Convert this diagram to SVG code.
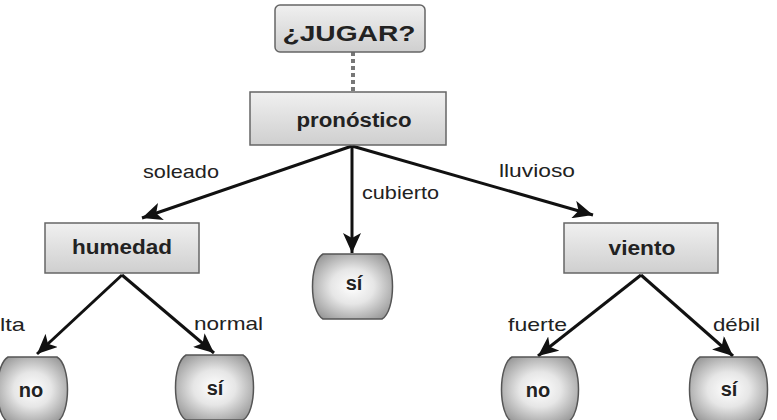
<svg xmlns="http://www.w3.org/2000/svg" width="777" height="420" viewBox="0 0 777 420">
<defs>
<linearGradient id="boxg" x1="0" y1="0" x2="0" y2="1">
<stop offset="0" stop-color="#f0f0f0"/>
<stop offset="1" stop-color="#cfcfcf"/>
</linearGradient>
<radialGradient id="leafg" cx="0.5" cy="0.5" r="0.6">
<stop offset="0" stop-color="#ffffff"/>
<stop offset="0.45" stop-color="#e6e6e6"/>
<stop offset="1" stop-color="#9a9a9a"/>
</radialGradient>
<marker id="ah" markerUnits="userSpaceOnUse" markerWidth="22" markerHeight="18" refX="20" refY="9" orient="auto">
<path d="M0,0 L20,9 L0,18 L5,9 Z" fill="#111"/>
</marker>
</defs>
<style>
.box{fill:url(#boxg);stroke:#666;stroke-width:1.5}
.leaf{fill:url(#leafg);stroke:#555;stroke-width:1.5}
.nt{font-family:"Liberation Sans",Arial,sans-serif;font-weight:bold;font-size:20px;fill:#222;text-anchor:middle}
.lb{font-family:"Liberation Sans",Arial,sans-serif;font-size:19px;fill:#222}
.edge{stroke:#111;stroke-width:3;fill:none;marker-end:url(#ah)}
</style>
<g id="connectors">
<line x1="353" y1="52" x2="353" y2="92" stroke="#777" stroke-width="4" stroke-dasharray="4,3"/>
<line class="edge" x1="352" y1="146" x2="142" y2="218"/>
<line class="edge" x1="352" y1="146" x2="352" y2="253"/>
<line class="edge" x1="352" y1="146" x2="593" y2="215"/>
<line class="edge" x1="122" y1="275" x2="37" y2="354"/>
<line class="edge" x1="122" y1="275" x2="214" y2="353"/>
<line class="edge" x1="641" y1="275" x2="538" y2="356"/>
<line class="edge" x1="641" y1="275" x2="733" y2="356"/>
<text class="lb" x="143" y="178" textLength="76" lengthAdjust="spacingAndGlyphs">soleado</text>
<text class="lb" x="362" y="199" textLength="77" lengthAdjust="spacingAndGlyphs">cubierto</text>
<text class="lb" x="499" y="177" textLength="76" lengthAdjust="spacingAndGlyphs">lluvioso</text>
<text class="lb" x="0" y="331" textLength="25" lengthAdjust="spacingAndGlyphs">lta</text>
<text class="lb" x="194" y="330" textLength="69" lengthAdjust="spacingAndGlyphs">normal</text>
<text class="lb" x="508" y="331" textLength="59" lengthAdjust="spacingAndGlyphs">fuerte</text>
<text class="lb" x="713" y="331" textLength="47" lengthAdjust="spacingAndGlyphs">débil</text>
</g>
<g id="jugar">
<rect x="275" y="5" width="150" height="47" rx="5" class="box"/>
<text class="nt" x="349" y="41" style="font-size:22px" textLength="133" lengthAdjust="spacingAndGlyphs">¿JUGAR?</text>
</g>
<g id="pronostico">
<rect x="250" y="92" width="196" height="53" class="box"/>
<text class="nt" x="354" y="127" textLength="115" lengthAdjust="spacingAndGlyphs">pronóstico</text>
</g>
<g id="humedad">
<rect x="45" y="223" width="154" height="50" class="box"/>
<text class="nt" x="122" y="254" textLength="100" lengthAdjust="spacingAndGlyphs">humedad</text>
</g>
<g id="viento">
<rect x="564" y="223" width="154" height="50" class="box"/>
<text class="nt" x="642" y="255" textLength="67" lengthAdjust="spacingAndGlyphs">viento</text>
</g>
<g id="si-cubierto">
<path class="leaf" d="M323,254 H382 C396,262 396,311 382,319 H323 C309,311 309,262 323,254 Z"/>
<text class="nt" x="354" y="290">sí</text>
</g>
<g id="no-alta">
<path class="leaf" d="M8,357 H57 C71,365 71,414 57,422 H8 C-6,414 -6,365 8,357 Z"/>
<text class="nt" x="31" y="397">no</text>
</g>
<g id="si-normal">
<path class="leaf" d="M186,355 H243 C257,363 257,412 243,420 H186 C172,412 172,363 186,355 Z"/>
<text class="nt" x="215" y="395">sí</text>
</g>
<g id="no-fuerte">
<path class="leaf" d="M512,357 H568 C582,365 582,414 568,422 H512 C498,414 498,365 512,357 Z"/>
<text class="nt" x="538" y="397">no</text>
</g>
<g id="si-debil">
<path class="leaf" d="M700,357 H757 C771,365 771,414 757,422 H700 C686,414 686,365 700,357 Z"/>
<text class="nt" x="729" y="396">sí</text>
</g>
</svg>
